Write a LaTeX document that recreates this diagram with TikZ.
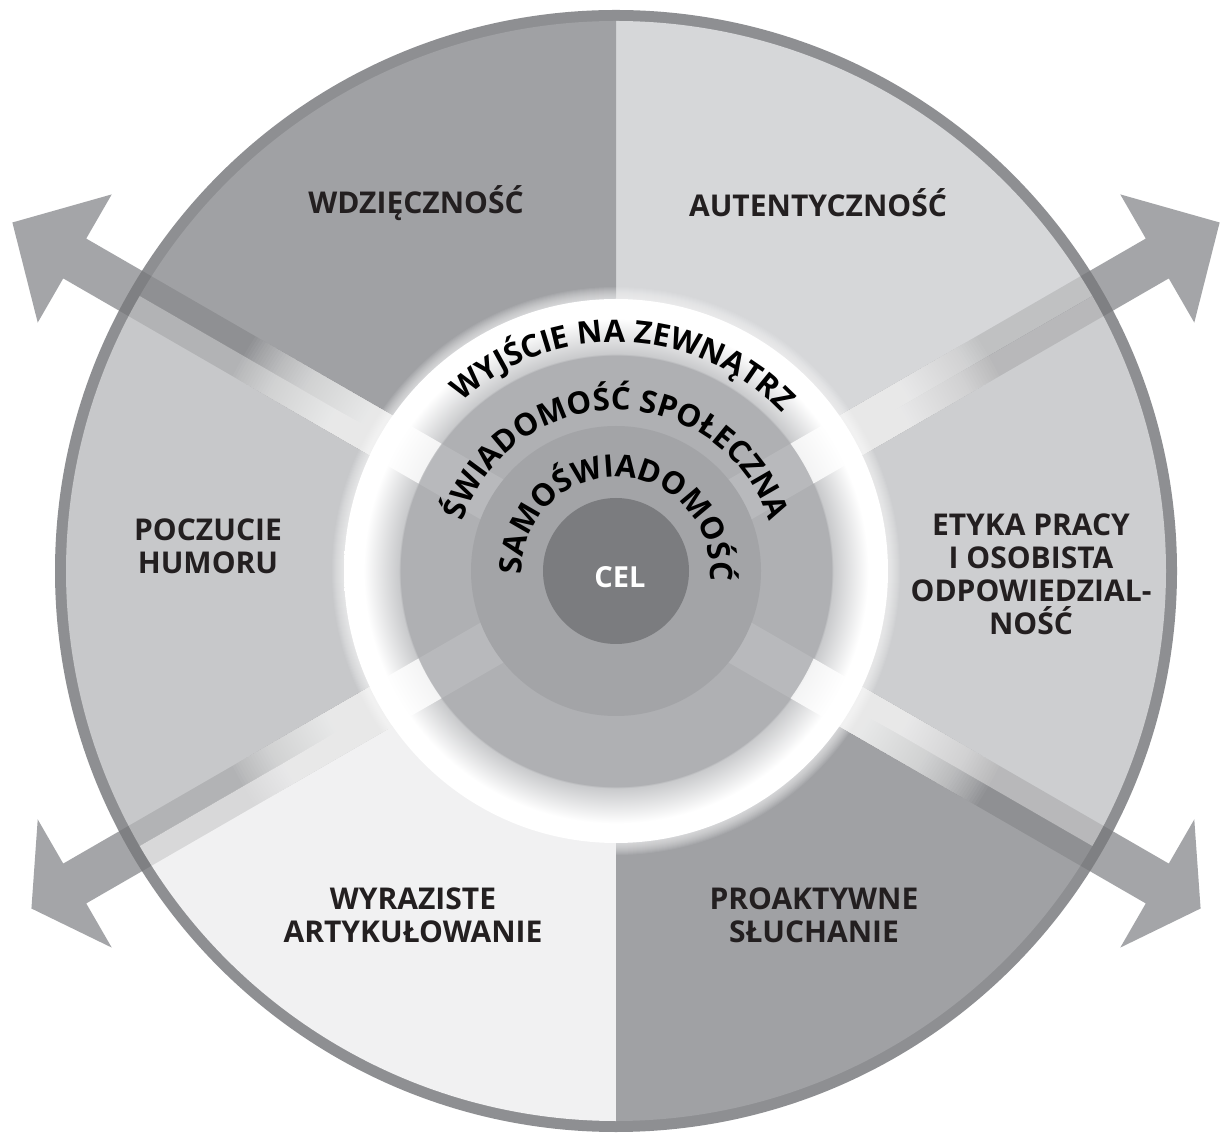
\documentclass[tikz,border=0pt]{standalone}
\usepackage{fontspec}
\setmainfont{Open Sans}
\usetikzlibrary{decorations.text}
\definecolor{secTL}{HTML}{A0A1A4}
\definecolor{secTR}{HTML}{D6D7D9}
\definecolor{secR}{HTML}{CDCED0}
\definecolor{secBR}{HTML}{A0A1A4}
\definecolor{secBL}{HTML}{F1F1F2}
\definecolor{secL}{HTML}{C7C8CA}
\definecolor{bordercol}{HTML}{8E8F92}
\definecolor{arrowcol}{HTML}{A4A5A8}
\definecolor{secondcol}{HTML}{AFB0B3}
\definecolor{ringB}{HTML}{C9CACC}
\definecolor{thirdcol}{HTML}{A3A4A7}
\definecolor{celcol}{HTML}{7B7C7F}
\definecolor{textcol}{HTML}{231F20}
\pgfdeclareradialshading{ringshade}{\pgfpoint{0bp}{0bp}}{%
  color(0bp)=(secondcol); color(19.8bp)=(secondcol); color(19.95bp)=(ringB);
  color(23.2bp)=(white); color(25bp)=(white); color(50bp)=(white)}
\newcommand\mylabfont{\fontsize{30}{33}\selectfont\bfseries}
\newcommand\myarcfont{\fontsize{31}{31}\selectfont\bfseries}
\newcommand\mycelfont{\fontsize{29}{29}\selectfont\bfseries}
\tikzset{
  lab/.style={font=\mylabfont, align=center, text=textcol, inner sep=0pt},
  arctext/.style={decorate, decoration={text along path, text align=center, text={|\myarcfont|#1}}},
}
\begin{document}
\begin{tikzpicture}[x=1pt,y=1pt]
\useasboundingbox (0,0) rectangle (1222,1135);
\fill[white] (0,0) rectangle (1222,1135);
\coordinate (C) at (616,564);
% solid arrows
\foreach \ang/\len in {150/697, 30/697, 210/675, 330/675}{
  \fill[arrowcol, shift={(C)}, rotate=\ang] (0,-23) -- (625,-23) -- (625,-74) -- (\len,0) -- (625,74) -- (625,23) -- (0,23) -- cycle;
}
% outer disc with border
\fill[bordercol] (C) circle[radius=561];
\foreach \a/\col in {30/secTR, 90/secTL, 150/secL, 210/secBL, 270/secBR, 330/secR}{
  \fill[\col] (C) -- ++(\a:550) arc[start angle=\a, delta angle=60, radius=550] -- cycle;
}
% translucent arrows inside disc
\begin{scope}
  \clip (C) circle[radius=561];
  \foreach \ang in {150,30,210,330}{
    \fill[black, opacity=0.1, shift={(C)}, rotate=\ang] (0,-23) rectangle (640,23);
  }
\end{scope}
% glow of arrows near the centre
\foreach \ang in {150,30,210,330}{
  \begin{scope}
    \clip[shift={(C)}, rotate=\ang] (0,-23) rectangle (700,23);
    \foreach \r in {274,277,...,430}{
      \fill[white, opacity=0.042] (C) circle[radius=\r];
    }
  \end{scope}
}
% soft edge of the ring
\foreach \r in {273,274,...,284}{
  \fill[white, opacity=0.07] (C) circle[radius=\r];
}
% ring and second disc
\shade[shading=ringshade] (C) circle[radius=272];
\foreach \ang in {150,30,210,330}{
  \begin{scope}
    \clip[shift={(C)}, rotate=\ang] (0,-23) rectangle (300,23);
    \fill[white, opacity=0.8, even odd rule] (C) circle[radius=272] (C) circle[radius=216];
    \fill[white, opacity=0.12] (C) circle[radius=216];
  \end{scope}
}
% third disc and centre
\fill[thirdcol] (C) circle[radius=145];
\fill[celcol] (C) circle[radius=73];
% curved texts
\path[arctext={WYJŚCIE NA ZEWNĄTRZ}] (C) ++(213:229) arc[start angle=213, end angle=-37, radius=229];
\path[arctext={ŚWIADOMOŚĆ SPOŁECZNA}] (C) ++(215:161) arc[start angle=215, end angle=-35, radius=161];
\path[arctext={SAMOŚWIADOMOŚĆ}] (C) ++(213:94) arc[start angle=213, end angle=-37, radius=94];
% labels
\node[font=\mycelfont, text=white, inner sep=0pt] (cel) at (620,558) {CEL};
\node[lab] (wdz) at (416,932) {WDZIĘCZNOŚĆ};
\node[lab] (aut) at (818,932) {AUTENTYCZNOŚĆ};
\node[lab] (hum) at (208,589) {POCZUCIE\\HUMORU};
\node[lab] (ety) at (1031,561) {ETYKA PRACY\\I OSOBISTA\\ODPOWIEDZIAL-\\NOŚĆ};
\node[lab] (wyr) at (413,220) {WYRAZISTE\\ARTYKUŁOWANIE};
\node[lab] (pro) at (814,220) {PROAKTYWNE\\SŁUCHANIE};
\end{tikzpicture}
\end{document}
